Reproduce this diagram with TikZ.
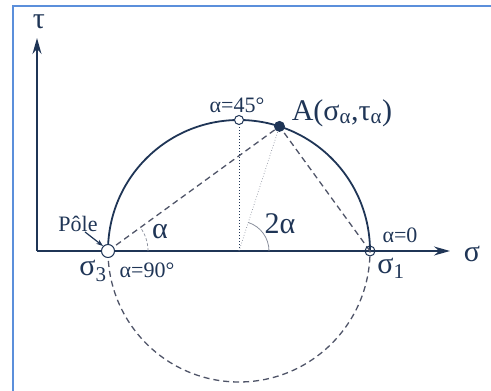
\documentclass[tikz,border=0pt]{standalone}
\usepackage{fontspec}
\setmainfont{Liberation Serif}
\usepackage{tikz}
\usetikzlibrary{arrows.meta, calc}

\definecolor{navy}{HTML}{1F3556}
\definecolor{dashgray}{HTML}{4F5468}
\definecolor{thingray}{HTML}{8A8F9C}
\definecolor{frameblue}{HTML}{5B8FDB}

\begin{document}
\begin{tikzpicture}[>={Stealth[length=16pt,width=9pt]}, x=1pt, y=1pt,
		smalltxt/.style={font=\fontsize{22}{26}\selectfont, text=navy, inner sep=0pt},
		bigtxt/.style={font=\fontsize{30}{34}\selectfont, text=navy, inner sep=0pt},
		ring/.style={draw=navy, line width=1pt, circle, inner sep=0pt, minimum size=#1},
		dashline/.style={dashgray, line width=1.3pt, dash pattern=on 6pt off 4pt}]
				\useasboundingbox (0,0) rectangle (491,391);
				\draw[frameblue, line width=2pt] (12.5,-5) -- (12.5,385) -- (500,385);
				
				\coordinate (O) at (37,140);
				\coordinate (C) at (239,140);
				\coordinate (S3) at (108,140);
				\coordinate (S1) at (370,140);
				\coordinate (T) at (239,271);
				\coordinate (A) at ($(C)+(72:131)$);
				\coordinate (Xtip) at (450,140);
				\coordinate (Ytip) at (37,353);
				
				\draw[navy, line width=1.5pt, ->] (O) -- (Xtip);
				\draw[navy, line width=1.5pt, ->] (O) -- (Ytip);
				\node[bigtxt] (sig) at (472,137) {σ};
				\node[bigtxt] (tau) at (39,369) {τ};
				
				\draw[navy, line width=1.8pt] (S1) arc[start angle=0, end angle=180, radius=131];
				\draw[dashline] (S3) arc[start angle=180, end angle=360, radius=131];
				
				\draw[dashline] (S3) -- (A) -- (S1);
				\draw[navy, line width=1pt, dotted] (C) -- (T);
				\draw[thingray, line width=0.7pt, dotted] (C) -- (A);
				
				\draw[thingray, line width=0.7pt, densely dashed] ($(S3)+(40,0)$) arc[start angle=0, end angle=36, radius=40];
				\draw[thingray, line width=0.8pt] ($(C)+(30,0)$) arc[start angle=0, end angle=72, radius=30];
				
				\node[ring=13pt, fill=white] (p3) at (S3) {};
				\node[ring=10pt] (p1) at (S1) {};
				\node[ring=9pt, fill=white] (pt) at (T) {};
				\fill[navy] (A) circle (5.5);
				
				\node[smalltxt] (pole) at (78,167) {Pôle};
				\draw[navy, line width=1.2pt, -{Stealth[length=7pt,width=5pt]}] ([xshift=7pt]pole.south) -- (p3.north west);
				
				\node[bigtxt] (s3) at (93,120) {σ\textsubscript{3}};
				\node[smalltxt] (a90) at (147,121) {α=90°};
				\node[bigtxt] (alab) at (160,159) {α};
				\node[smalltxt] (a45) at (237,286) {α=45°};
				\node[bigtxt] (Alab) at (342,278) {A(σ\textsubscript{α},τ\textsubscript{α})};
				\node[bigtxt] (tlab) at (280,167) {2α};
				\node[smalltxt] (a0) at (400,156) {α=0};
				\node[bigtxt] (s1) at (391,123) {σ\textsubscript{1}};
			\end{tikzpicture}
\end{document}
